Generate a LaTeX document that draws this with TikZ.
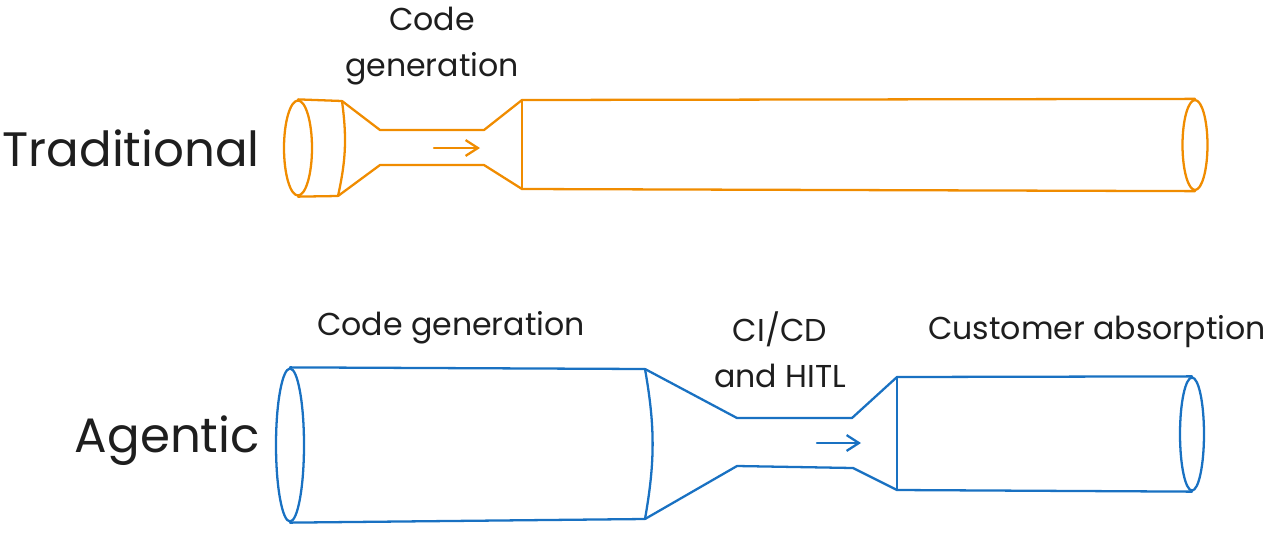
\documentclass[tikz,border=0pt]{standalone}
\usepackage{fontspec}
\setmainfont{Poppins}
\usetikzlibrary{positioning,shapes.geometric,arrows.meta}
\definecolor{pipeorange}{HTML}{F08C00}
\definecolor{pipeblue}{HTML}{1971C2}
\definecolor{ink}{HTML}{1E1E1E}
\tikzstyle{pipe}=[line width=1.3pt,line join=round,line cap=round]
\tikzstyle{mouth}=[draw,ellipse,inner sep=0pt,pipe]
\tikzstyle{stagetext}=[text=ink,align=center,font=\fontsize{18}{26}\selectfont]
\tikzstyle{rowtext}=[text=ink,font=\fontsize{27.5}{30}\selectfont]
\newcommand{\newFlow}[3]{\draw[pipe,#3,-{Straight Barb[length=7pt,width=9pt]}] (#1) -- (#2);}

\begin{document}
\begin{tikzpicture}[x=0.02cm,y=-0.02cm]
        \useasboundingbox (0,0) rectangle (1279,532);
        % traditional row
        \node[rowtext,anchor=east] (trad) at (266,148) {Traditional};
        \node[mouth,pipeorange,minimum width=0.56cm,minimum height=1.9cm] (tradIn) at (298,148) {};
        \node[mouth,pipeorange,minimum width=0.5cm,minimum height=1.8cm] (tradOut) at (1195,145) {};
        \coordinate (tA) at (342,101);
        \coordinate (tB) at (338,196);
        \coordinate (tC) at (380,130);
        \coordinate (tD) at (380,165);
        \coordinate (tE) at (484,130);
        \coordinate (tF) at (484,165);
        \coordinate (tG) at (522,100);
        \coordinate (tH) at (522,189);
        \draw[pipe,pipeorange] (tradIn.north) -- (tA) to[bend left=10] (tB) -- (tradIn.south);
        \draw[pipe,pipeorange] (tA) -- (tC) -- (tE) -- (tG) -- (tradOut.north);
        \draw[pipe,pipeorange] (tB) -- (tD) -- (tF) -- (tH) -- (tradOut.south);
        \draw[pipe,pipeorange] (tG) -- (tH);
        \coordinate (tS) at (434,148);
        \coordinate (tT) at (480,148);
        \newFlow{tS}{tT}{pipeorange}
        \node[stagetext] (tradGen) at (432,46) {Code\\generation};

        % agentic row
        \node[rowtext,anchor=east] (agent) at (266,441) {Agentic};
        \node[mouth,pipeblue,minimum width=0.56cm,minimum height=3.06cm] (agIn) at (290,445) {};
        \node[mouth,pipeblue,minimum width=0.48cm,minimum height=2.26cm] (agOut) at (1192,434) {};
        \coordinate (aA) at (645,369);
        \coordinate (aB) at (645,519);
        \coordinate (aC) at (737,418);
        \coordinate (aD) at (737,466);
        \coordinate (aE) at (852,418);
        \coordinate (aF) at (853,468);
        \coordinate (aG) at (897,377);
        \coordinate (aH) at (897,490);
        \draw[pipe,pipeblue] (agIn.north) -- (aA) to[bend left=10] (aB) -- (agIn.south);
        \draw[pipe,pipeblue] (aA) -- (aC) -- (aE) -- (aG) -- (agOut.north);
        \draw[pipe,pipeblue] (aB) -- (aD) -- (aF) -- (aH) -- (agOut.south);
        \draw[pipe,pipeblue] (aG) -- (aH);
        \coordinate (aS) at (817,443);
        \coordinate (aT) at (861,443);
        \newFlow{aS}{aT}{pipeblue}
        \node[stagetext] (agGen) at (451,328) {Code generation};
        \node[stagetext] (agCi) at (780,350) {CI/CD\\and HITL};
        \node[stagetext] (agCust) at (1097,332) {Customer absorption};
\end{tikzpicture}
\end{document}
